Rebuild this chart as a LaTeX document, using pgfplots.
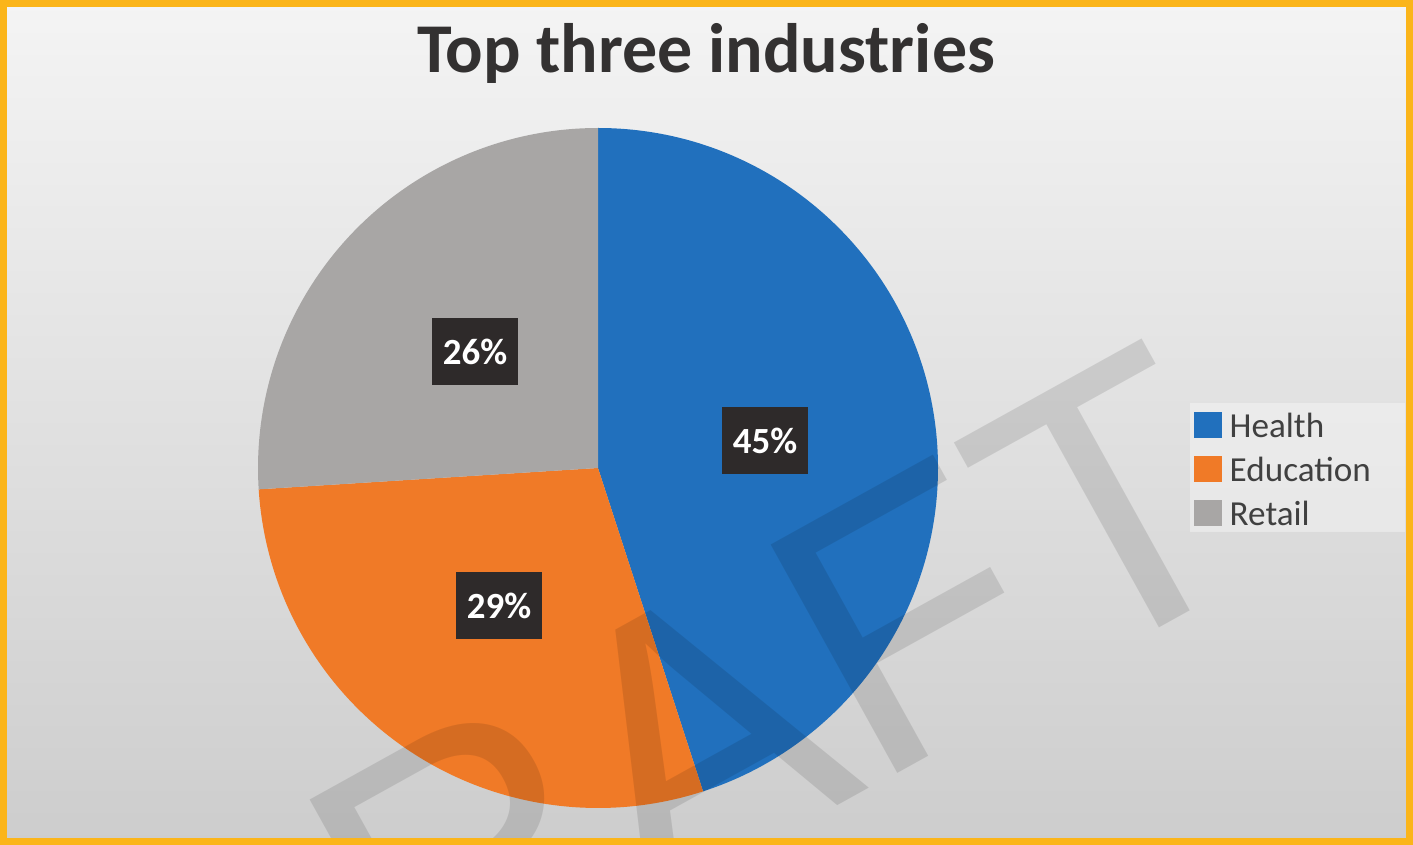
\documentclass[border=0pt]{standalone}
\usepackage{pgfplots}
\pgfplotsset{compat=1.18}
\usepackage{fontspec}
\setmainfont{Carlito}
\newfontfamily\wmfont{Liberation Sans}
\definecolor{hblue}{HTML}{2170BD}
\definecolor{eorange}{HTML}{F07A27}
\definecolor{rgray}{HTML}{A8A6A5}
\definecolor{lbox}{HTML}{2E2A2A}
\definecolor{ttl}{HTML}{333131}
\definecolor{gold}{HTML}{FBB51A}
% data (percent)
\def\vHealth{45}
\def\vEducation{29}
\def\vRetail{26}
\begin{document}
\begin{tikzpicture}
\useasboundingbox (0,0) rectangle (14.13,8.45);
\shade[top color={rgb,255:red,244;green,244;blue,244}, bottom color={rgb,255:red,205;green,205;blue,205}] (0,0) rectangle (14.13,8.45);
\pgfmathsetmacro{\aA}{90}
\pgfmathsetmacro{\aB}{90-3.6*\vHealth}
\pgfmathsetmacro{\aC}{\aB-3.6*\vEducation}
\pgfmathsetmacro{\aD}{\aC-3.6*\vRetail}
\begin{axis}[
  at={(0,0)}, anchor=south west,
  scale only axis, width=14.13cm, height=8.45cm,
  xmin=0, xmax=14.13, ymin=0, ymax=8.45,
  hide axis, clip=false]
\fill[hblue] (axis cs:5.98,3.77) -- ++(\aA:3.4cm) arc[start angle=\aA, end angle=\aB, radius=3.4cm] -- cycle;
\fill[eorange] (axis cs:5.98,3.77) -- ++(\aB:3.4cm) arc[start angle=\aB, end angle=\aC, radius=3.4cm] -- cycle;
\fill[rgray] (axis cs:5.98,3.77) -- ++(\aC:3.4cm) arc[start angle=\aC, end angle=\aD, radius=3.4cm] -- cycle;
\tikzset{lab/.style={fill=lbox, text=white, font=\fontsize{10.5}{12}\selectfont\bfseries, minimum width=0.86cm, minimum height=0.67cm, inner sep=0pt}}
\node[lab] at (axis cs:7.65,4.04) {\vHealth\%};
\node[lab] at (axis cs:4.99,2.39) {\vEducation\%};
\node[lab] at (axis cs:4.75,4.93) {\vRetail\%};
\node[anchor=base, text=ttl, font=\fontsize{19.9}{24}\selectfont\bfseries, inner sep=0pt] at (axis cs:7.06,7.72) {Top three industries};
% legend
\fill[white, opacity=0.35] (axis cs:11.90,3.13) rectangle (axis cs:14.05,4.42);
\fill[hblue] (axis cs:11.94,4.07) rectangle (axis cs:12.22,4.33);
\fill[eorange] (axis cs:11.94,3.63) rectangle (axis cs:12.22,3.89);
\fill[rgray] (axis cs:11.94,3.19) rectangle (axis cs:12.22,3.45);
\tikzset{leg/.style={anchor=west, inner sep=0pt, text={rgb,255:red,64;green,64;blue,64}, font=\fontsize{10}{12}\selectfont}}
\node[leg] at (axis cs:12.29,4.20) {Health};
\node[leg] at (axis cs:12.29,3.76) {Education};
\node[leg] at (axis cs:12.29,3.32) {Retail};
\end{axis}
\begin{scope}
\clip (0,0) rectangle (14.13,8.45);
\node[rotate=29, anchor=base west, text=black, text opacity=0.11, font=\wmfont\fontsize{108}{110}\selectfont, inner sep=0pt] at (1.69,-3.32) {DRAFT};
\end{scope}
\draw[gold, line width=0.07cm] (0.035,0.035) rectangle (14.095,8.415);
\end{tikzpicture}
\end{document}
